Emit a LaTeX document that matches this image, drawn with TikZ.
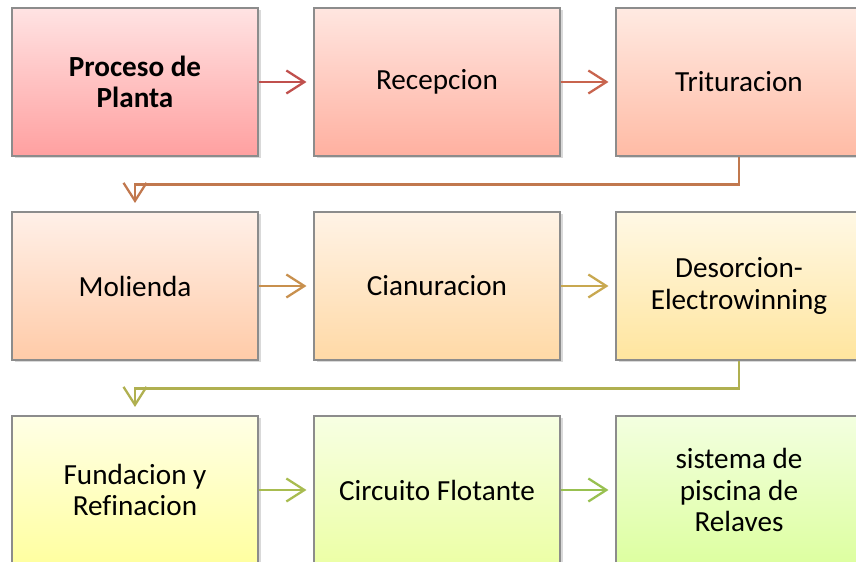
\documentclass[tikz,border=0pt]{standalone}
\usepackage{fontspec}
\setmainfont{Carlito}[Ligatures=CommonOff]
\usetikzlibrary{arrows.meta,positioning,shadows}

\definecolor{boxline}{RGB}{140,140,140}
\definecolor{c1t}{RGB}{255,227,227}\definecolor{c1b}{RGB}{255,160,160}
\definecolor{c2t}{RGB}{255,230,224}\definecolor{c2b}{RGB}{255,176,160}
\definecolor{c3t}{RGB}{255,234,226}\definecolor{c3b}{RGB}{255,187,165}
\definecolor{c4t}{RGB}{255,240,232}\definecolor{c4b}{RGB}{255,203,168}
\definecolor{c5t}{RGB}{255,243,230}\definecolor{c5b}{RGB}{255,217,166}
\definecolor{c6t}{RGB}{255,248,229}\definecolor{c6b}{RGB}{255,229,158}
\definecolor{c7t}{RGB}{255,255,230}\definecolor{c7b}{RGB}{255,255,160}
\definecolor{c8t}{RGB}{247,255,227}\definecolor{c8b}{RGB}{236,255,166}
\definecolor{c9t}{RGB}{243,255,224}\definecolor{c9b}{RGB}{221,255,160}
\definecolor{a1}{RGB}{192,80,77}
\definecolor{a2}{RGB}{200,100,78}
\definecolor{a3}{RGB}{193,120,78}
\definecolor{a4}{RGB}{200,144,78}
\definecolor{a5}{RGB}{200,168,80}
\definecolor{a6}{RGB}{176,176,80}
\definecolor{a7}{RGB}{168,188,80}
\definecolor{a8}{RGB}{152,192,80}

\begin{document}
\begin{tikzpicture}[->,>={Straight Barb[length=0.36cm,width=0.46cm]},shorten >=0.14cm,%
    node distance=4.08cm and 6.04cm,on grid,line width=1.3pt,
    box/.style 2 args={draw=boxline,line width=0.6pt,top color=#1,bottom color=#2,
        minimum width=4.92cm,minimum height=2.96cm,align=center,
        font=\fontsize{16.6}{17.8}\selectfont,
        drop shadow={shadow xshift=0.05cm,shadow yshift=-0.05cm,opacity=0.3}}]
    \useasboundingbox (0,0) rectangle (17.12,-11.24);
    \clip (0,0) rectangle (17.12,-11.24);

    \node[box={c1t}{c1b}] (planta) at (2.70,-1.64) {\textbf{Proceso de}\\\textbf{Planta}};
    \node[box={c2t}{c2b}] (recep)  [right=of planta] {Recepcion};
    \node[box={c3t}{c3b}] (trit)   [right=of recep]  {Trituracion};
    \node[box={c4t}{c4b}] (mol)    [below=of planta] {Molienda};
    \node[box={c5t}{c5b}] (cian)   [right=of mol]    {Cianuracion};
    \node[box={c6t}{c6b}] (desor)  [right=of cian]   {Desorcion-\\Electrowinning};
    \node[box={c7t}{c7b}] (fund)   [below=of mol]    {Fundacion y\\Refinacion};
    \node[box={c8t}{c8b}] (circ)   [right=of fund]   {Circuito Flotante};
    \node[box={c9t}{c9b}] (relav)  [right=of circ]   {sistema de\\piscina de\\Relaves};

    \path
        (planta) edge [a1] (recep)
        (recep)  edge [a2] (trit)
        (mol)    edge [a4] (cian)
        (cian)   edge [a5] (desor)
        (fund)   edge [a7] (circ)
        (circ)   edge [a8] (relav);
    \draw[a3,shorten >=0.17cm] (trit.south) -- ++(0,-0.56) -| (mol.north);
    \draw[a6,shorten >=0.17cm] (desor.south) -- ++(0,-0.56) -| (fund.north);
\end{tikzpicture}
\end{document}
